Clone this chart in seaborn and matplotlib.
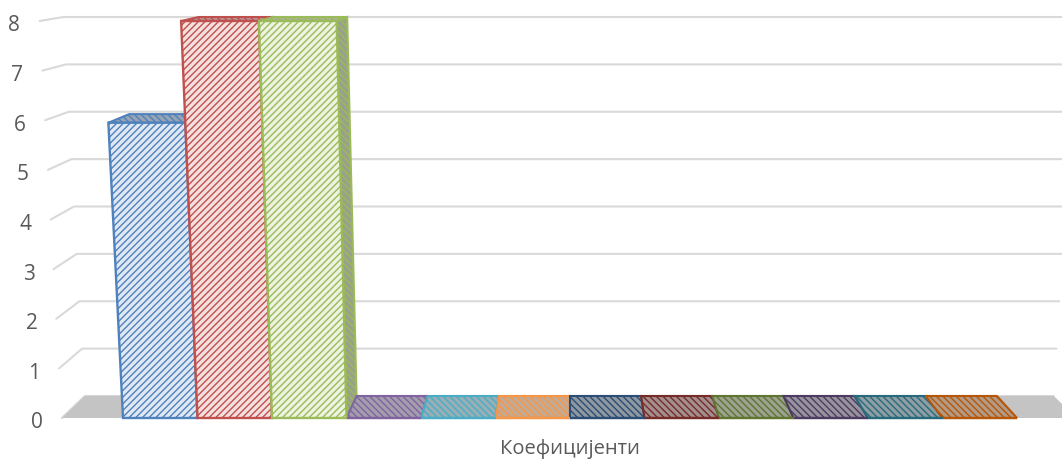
import numpy as np
import pandas as pd
import matplotlib
matplotlib.use("Agg")
import matplotlib.pyplot as plt
import matplotlib.colors as mcolors
from matplotlib.patches import Polygon
from matplotlib.transforms import Transform
import seaborn as sns

# =========================================================
# DATA
# =========================================================

coefficients = ["k1", "k2", "k3", "k4", "k5", "k6", "k7", "k8", "k9", "k10", "k11", "k12"]
values = [5.95, 8, 8, 0, 0, 0, 0, 0, 0, 0, 0, 0]
colors = ["#4f81bd", "#c0504d", "#9bbb59", "#8064a2", "#4bacc6", "#f79646",
          "#2c4d75", "#772c2a", "#5f7530", "#4d3b62", "#276a7c", "#b65708"]
y_ticks = [0, 1, 2, 3, 4, 5, 6, 7, 8]
x_title = "Коефицијенти"

TEXT = "#595959"
GRID = "#d9d9d9"
FLOOR = "#c4c4c4"

# =========================================================
# 3D LOOK
# =========================================================

CENTER = 5.5
WALL_LEFT = -1.32
WALL_RIGHT = 12.3


def project(x, v, d=0.0):
    # category, value, depth (0 front, 1 back) -> position on the flat axes
    x = np.asarray(x, dtype=float)
    v = np.asarray(v, dtype=float)
    d = np.asarray(d, dtype=float)
    px = CENTER + (x - CENTER) * (1 + 0.0055 * v) * (1 - 0.045 * d)
    py = v + d * (0.4435 - 0.0454 * v)
    return px, py


class Keystone(Transform):
    input_dims = 2
    output_dims = 2
    has_inverse = False

    def transform_non_affine(self, values):
        px, py = project(values[:, 0], values[:, 1])
        return np.column_stack([px, py])


def mix(color, other, amount):
    a = np.array(mcolors.to_rgb(color))
    b = np.array(mcolors.to_rgb(other))
    return tuple(a * (1 - amount) + b * amount)


def face(ax, corners, color, fill, hatch, z):
    pts = [tuple(float(p) for p in project(*c)) for c in corners]
    ax.add_patch(Polygon(pts, closed=True, facecolor=fill, edgecolor=color,
                         hatch=hatch, linewidth=1.5, zorder=z, clip_on=False))


# =========================================================
# FIGURE
# =========================================================

sns.set_style("white")
plt.rcParams["font.family"] = ["Open Sans", "DejaVu Sans"]
plt.rcParams["hatch.linewidth"] = 1.0

fig = plt.figure(figsize=(10.62, 4.59), dpi=100)
ax = fig.add_axes([123 / 1062, 41 / 459, 894 / 1062, 397 / 459])

df = pd.DataFrame({"coef": coefficients, "value": values})

sns.barplot(
    data=df,
    x="coef",
    y="value",
    hue="coef",
    palette=colors,
    width=1,
    legend=False,
    ax=ax
)

bars = [p for p in ax.patches]
keystone = Keystone() + ax.transData

for bar, color in zip(bars, colors):
    x0 = bar.get_x()
    x1 = x0 + bar.get_width()
    h = bar.get_height()

    # front face
    bar.set_transform(keystone)
    bar.set_facecolor(mix(color, "white", 0.82))
    bar.set_edgecolor(color)
    bar.set_hatch("/////")
    bar.set_linewidth(1.7)
    bar.set_zorder(3)
    bar.set_clip_on(False)

    # top and side faces
    shade = mix(color, "#b0b0b0", 0.75)
    if h > 0:
        face(ax, [(x1, 0, 0), (x1, h, 0), (x1, h, 1), (x1, 0, 1)],
             color, mix(color, "#999999", 0.8), "\\\\\\\\\\", 2)
    face(ax, [(x0, h, 0), (x1, h, 0), (x1, h, 1), (x0, h, 1)],
         color, shade, "\\\\\\\\\\", 2)

# floor and walls
floor_pts = [(WALL_LEFT, 0, 0), (WALL_RIGHT, 0, 0), (WALL_RIGHT, 0, 1), (WALL_LEFT, 0, 1)]
ax.add_patch(Polygon([tuple(float(p) for p in project(*c)) for c in floor_pts], closed=True,
                     facecolor=FLOOR, edgecolor="none", zorder=1, clip_on=False))

for tick in y_ticks:
    xs, ys = project([WALL_LEFT, WALL_LEFT, WALL_RIGHT], [tick, tick, tick], [0, 1, 1])
    ax.plot(xs, ys, color=GRID, linewidth=1.5, zorder=0.5, clip_on=False)

    lx, ly = project(-1.65, tick)
    ax.text(float(lx), float(ly) - 0.1, str(tick), ha="center", va="center",
            fontsize=15, color=TEXT, clip_on=False)

# =========================================================
# AXES
# =========================================================

ax.set_xlim(-0.5, 11.5)
ax.set_ylim(0, 8)
ax.set_xticks([])
ax.set_yticks([])
ax.set_ylabel("")
ax.set_xlabel(x_title, fontsize=14.5, color=TEXT, labelpad=15)
ax.patch.set_visible(False)
sns.despine(ax=ax, left=True, bottom=True)

fig.savefig("out.png", dpi=100)
